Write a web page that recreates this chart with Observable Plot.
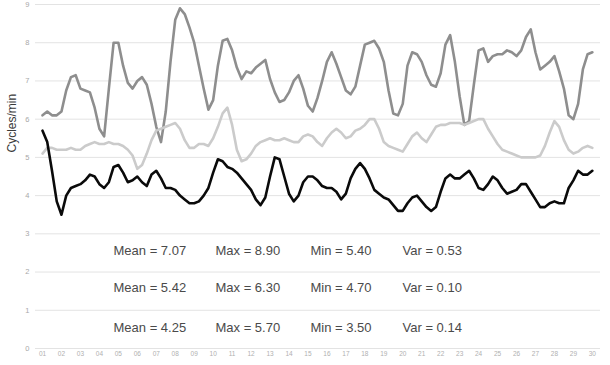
<!DOCTYPE html>
<html>
<head>
<meta charset="utf-8">
<script src="https://cdn.jsdelivr.net/npm/d3@7"></script>
<script src="https://cdn.jsdelivr.net/npm/@observablehq/plot@0.6"></script>
<style>
  html, body { margin: 0; padding: 0; background: #fff; }
  #chart svg { display: block; }
</style>
</head>
<body>
<div id="chart"></div>
<script>
// Series values (cycles/min), one per sample
const seriesHigh = [
  6.1, 6.2, 6.1, 6.1, 6.2, 6.75, 7.1, 7.15, 6.8, 6.75,
  6.7, 6.3, 5.75, 5.55, 6.8, 8.0, 8.0, 7.4, 6.95, 6.8,
  7.0, 7.1, 6.9, 6.4, 5.8, 5.4, 6.2, 7.5, 8.6, 8.9,
  8.75, 8.4, 8.0, 7.4, 6.8, 6.25, 6.5, 7.4, 8.05, 8.1,
  7.8, 7.35, 7.05, 7.25, 7.2, 7.35, 7.45, 7.55, 7.05, 6.7,
  6.45, 6.5, 6.7, 7.0, 7.15, 6.8, 6.35, 6.2, 6.55, 7.0,
  7.5, 7.75, 7.45, 7.1, 6.75, 6.65, 6.85, 7.4, 7.95, 8.0,
  8.05, 7.85, 7.5, 6.75, 6.15, 6.1, 6.4, 7.4, 7.75, 7.7,
  7.5, 7.15, 6.9, 6.85, 7.2, 7.95, 8.2, 7.5, 6.6, 5.85,
  5.95, 6.9, 7.8, 7.85, 7.5, 7.65, 7.7, 7.7, 7.8, 7.75,
  7.65, 7.8, 8.15, 8.35, 7.75, 7.3, 7.4, 7.5, 7.65, 7.25,
  6.8, 6.1, 6.0, 6.4, 7.3, 7.7, 7.75
];
const seriesMid = [
  5.1, 5.25, 5.25, 5.2, 5.2, 5.2, 5.25, 5.2, 5.2, 5.3,
  5.35, 5.4, 5.35, 5.35, 5.4, 5.35, 5.35, 5.3, 5.2, 5.05,
  4.7, 4.8, 5.1, 5.45, 5.7, 5.75, 5.8, 5.85, 5.9, 5.75,
  5.45, 5.25, 5.25, 5.35, 5.35, 5.3, 5.5, 5.8, 6.15, 6.3,
  5.85, 5.2, 4.9, 4.95, 5.1, 5.3, 5.4, 5.45, 5.5, 5.45,
  5.45, 5.5, 5.45, 5.4, 5.4, 5.55, 5.6, 5.55, 5.4, 5.3,
  5.5, 5.65, 5.75, 5.65, 5.5, 5.55, 5.7, 5.75, 5.85, 6.0,
  6.0, 5.75, 5.4, 5.3, 5.25, 5.2, 5.15, 5.35, 5.55, 5.65,
  5.5, 5.4, 5.6, 5.8, 5.85, 5.85, 5.9, 5.9, 5.9, 5.85,
  5.9, 5.95, 6.0, 6.0, 5.75, 5.55, 5.35, 5.2, 5.15, 5.1,
  5.05, 5.0, 5.0, 5.0, 5.0, 5.05, 5.3, 5.65, 5.95, 5.8,
  5.45, 5.2, 5.1, 5.15, 5.25, 5.3, 5.25
];
const seriesLow = [
  5.7, 5.4, 4.65, 3.85, 3.5, 4.0, 4.2, 4.25, 4.3, 4.4,
  4.55, 4.5, 4.3, 4.2, 4.35, 4.75, 4.8, 4.6, 4.35, 4.4,
  4.5, 4.35, 4.25, 4.55, 4.65, 4.45, 4.2, 4.2, 4.15, 4.0,
  3.9, 3.8, 3.8, 3.85, 4.0, 4.2, 4.6, 4.95, 4.9, 4.75,
  4.7, 4.6, 4.45, 4.3, 4.15, 3.9, 3.75, 3.95, 4.5, 5.0,
  4.95, 4.5, 4.05, 3.85, 4.0, 4.35, 4.5, 4.5, 4.4, 4.25,
  4.2, 4.2, 4.1, 3.9, 4.05, 4.45, 4.7, 4.85, 4.7, 4.45,
  4.15, 4.05, 3.95, 3.9, 3.75, 3.6, 3.6, 3.8, 3.95, 4.0,
  3.85, 3.7, 3.6, 3.7, 4.1, 4.45, 4.55, 4.45, 4.45, 4.55,
  4.65, 4.45, 4.2, 4.15, 4.3, 4.5, 4.4, 4.2, 4.05, 4.1,
  4.15, 4.3, 4.3, 4.1, 3.9, 3.7, 3.7, 3.8, 3.85, 3.8,
  3.8, 4.2, 4.4, 4.65, 4.55, 4.55, 4.65
];

// Summary statistics (as printed on the chart), rows top to bottom
const statMean = ["7.07", "5.42", "4.25"];
const statMax  = ["8.90", "6.30", "5.70"];
const statMin  = ["5.40", "4.70", "3.50"];
const statVar  = ["0.53", "0.10", "0.14"];

// Axis ticks
const yTicks = [0, 1, 2, 3, 4, 5, 6, 7, 8, 9];
const xTickLabels = ["01","02","03","04","05","06","07","08","09","10",
                     "11","12","13","14","15","16","17","18","19","20",
                     "21","22","23","24","25","26","27","28","29","30"];
const xTickEvery = 4;
const yTitle = "Cycles/min";

// Build tidy table
const rows = [];
const seriesDefs = [["high", seriesHigh], ["mid", seriesMid], ["low", seriesLow]];
for (const [name, vals] of seriesDefs) vals.forEach((v, i) => rows.push({series: name, t: i, v}));
const xTickPos = xTickLabels.map((_, k) => k * xTickEvery);

const colors = {high: "#8e8e8e", mid: "#cbcbcb", low: "#0a0a0a"};

// stats text marks
const colDx = [78, 180, 275, 367];
const rowDy = [246, 283, 323];
const statMarks = [];
for (let r = 0; r < 3; r++) {
  const parts = [
    "Mean = " + statMean[r],
    "Max = " + statMax[r],
    "Min = " + statMin[r],
    "Var = " + statVar[r]
  ];
  parts.forEach((p, c) => {
    statMarks.push(Plot.text([p], {
      text: d => d,
      frameAnchor: "top-left",
      textAnchor: "start",
      lineAnchor: "middle",
      dx: colDx[c],
      dy: rowDy[r],
      fontSize: 13,
      fill: "#4a4a4a"
    }));
  });
}

const chart = Plot.plot({
  width: 610,
  height: 365,
  marginLeft: 35,
  marginRight: 10,
  marginTop: 4,
  marginBottom: 17,
  style: {fontFamily: "'Liberation Sans', Arial, sans-serif", background: "#fff"},
  x: {domain: [-1.48, 117.72], axis: null},
  y: {domain: [0, 9], axis: null},
  marks: [
    Plot.gridY(yTicks, {stroke: "#e3e3e3", strokeOpacity: 1, strokeWidth: 1}),
    Plot.axisY(yTicks, {tickSize: 0, tickPadding: 6, fontSize: 7.5, fill: "#a8a8a8", label: null}),
    Plot.axisX(xTickPos, {tickSize: 0, tickPadding: 3, fontSize: 6.5, fill: "#b0b0b0", label: null,
      tickFormat: d => xTickLabels[d / xTickEvery]}),
    Plot.text([yTitle], {text: d => d, frameAnchor: "left", rotate: -90, dx: -23, dy: -24,
      fontSize: 12, fill: "#3a3a3a"}),
    ...seriesDefs.map(([name]) => Plot.lineY(rows.filter(d => d.series === name), {
      x: "t", y: "v", stroke: colors[name], strokeWidth: 2.6, strokeLinejoin: "round"
    })),
    ...statMarks
  ]
});
document.getElementById("chart").appendChild(chart);
</script>
</body>
</html>
